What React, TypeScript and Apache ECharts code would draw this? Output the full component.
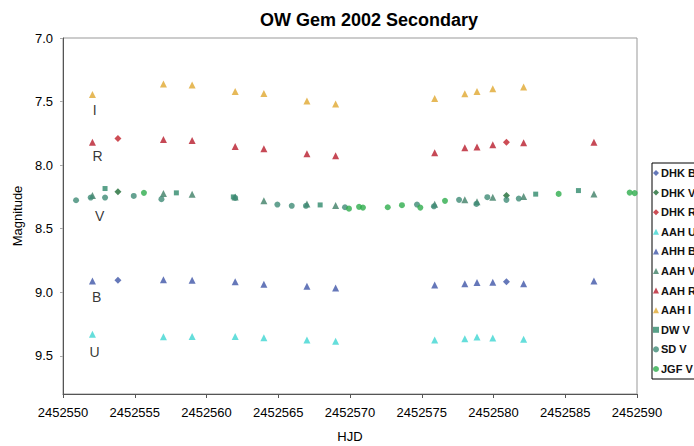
import React, { useEffect, useRef } from "react";
import * as echarts from "echarts";

// AAH nights (HJD)
const aahHjd = [2452552.05, 2452557.0, 2452559.0, 2452562.0, 2452564.0, 2452567.0, 2452569.0, 2452575.9, 2452578.0, 2452578.85, 2452579.95, 2452582.1, 2452587.0];
const aahU = [9.331, 9.35, 9.347, 9.347, 9.357, 9.376, 9.386, 9.376, 9.365, 9.352, 9.36, 9.37, null];
const ahhB = [8.911, 8.901, 8.906, 8.917, 8.937, 8.953, 8.967, 8.943, 8.932, 8.924, 8.921, 8.932, 8.911];
const aahV = [8.239, 8.224, 8.228, 8.25, 8.281, 8.305, 8.318, 8.307, 8.273, 8.287, 8.252, 8.247, 8.226];
const aahR = [7.819, 7.798, 7.806, 7.854, 7.872, 7.911, 7.927, 7.903, 7.864, 7.858, 7.84, 7.824, 7.819];
const aahI = [7.444, 7.362, 7.37, 7.42, 7.436, 7.496, 7.52, 7.476, 7.439, 7.42, 7.4, 7.386, null];

// DHK nights
const dhkHjd = [2452553.83, 2452580.9];
const dhkB = [8.906, 8.917];
const dhkV = [8.21, 8.239];
const dhkR = [7.79, 7.819];

// DW V
const dwHjd = [2452552.93, 2452557.9, 2452561.87, 2452567.92, 2452582.94, 2452585.92];
const dwV = [8.184, 8.218, 8.25, 8.313, 8.228, 8.2];

// SD V
const sdHjd = [2452550.91, 2452551.93, 2452552.93, 2452554.93, 2452556.86, 2452562.0, 2452564.94, 2452565.94, 2452566.93, 2452569.65, 2452574.67, 2452575.85, 2452577.6, 2452578.81, 2452579.57, 2452580.9, 2452581.76];
const sdV = [8.276, 8.255, 8.255, 8.242, 8.268, 8.258, 8.31, 8.32, 8.32, 8.331, 8.31, 8.324, 8.273, 8.305, 8.252, 8.273, 8.263];

// JGF V
const jgfHjd = [2452555.64, 2452569.93, 2452570.63, 2452570.9, 2452572.63, 2452573.62, 2452574.9, 2452576.62, 2452584.54, 2452589.49, 2452589.84];
const jgfV = [8.218, 8.342, 8.328, 8.334, 8.331, 8.315, 8.334, 8.281, 8.226, 8.216, 8.22];

// band labels
const bandLabels = ["I", "R", "V", "B", "U"];
const bandLabelHjd = [2452552.2, 2452552.4, 2452552.55, 2452552.35, 2452552.2];
const bandLabelMag = [7.565, 7.932, 8.397, 9.037, 9.47];

const FONT = "'Liberation Sans', Arial, sans-serif";

function pts(xs: number[], ys: (number | null)[]) {
  const out: number[][] = [];
  xs.forEach((x, i) => {
    const y = ys[i];
    if (y !== null && y !== undefined) out.push([x, y]);
  });
  return out;
}

function sc(name: string, xs: number[], ys: (number | null)[], symbol: string, size: number, color: string) {
  return {
    name,
    type: "scatter",
    symbol,
    symbolSize: size,
    itemStyle: { color },
    data: pts(xs, ys),
  };
}

export default function App() {
  const ref = useRef<HTMLDivElement>(null);
  useEffect(() => {
    if (!ref.current) return;
    const chart = echarts.init(ref.current, undefined, { renderer: "svg" });
    const series: any[] = [
      sc("DHK B", dhkHjd, dhkB, "diamond", 7, "#3F56A8"),
      sc("DHK V", dhkHjd, dhkV, "diamond", 7, "#1E6B35"),
      sc("DHK R", dhkHjd, dhkR, "diamond", 7, "#C0202A"),
      sc("AAH U", aahHjd, aahU, "triangle", 7, "#3FD6D2"),
      sc("AHH B", aahHjd, ahhB, "triangle", 7, "#3F55A8"),
      sc("AAH V", aahHjd, aahV, "triangle", 7, "#3E7F66"),
      sc("AAH R", aahHjd, aahR, "triangle", 7, "#B81C2C"),
      sc("AAH I", aahHjd, aahI, "triangle", 7, "#E0A830"),
      sc("DW V", dwHjd, dwV, "rect", 5, "#2F8A6C"),
      sc("SD V", sdHjd, sdV, "circle", 6, "#3F8B76"),
      sc("JGF V", jgfHjd, jgfV, "circle", 6, "#2EAD4C"),
      {
        name: "labels",
        type: "scatter",
        symbolSize: 0,
        silent: true,
        data: bandLabels.map((n, i) => ({ name: n, value: [bandLabelHjd[i], bandLabelMag[i]] })),
        label: {
          show: true,
          position: "inside",
          formatter: (p: any) => p.name,
          color: "#000",
          fontSize: 14,
          fontFamily: FONT,
          textBorderWidth: 0,
        },
      },
    ];
    chart.setOption({
      animation: false,
      backgroundColor: "#fff",
      title: {
        text: "OW Gem 2002 Secondary",
        left: 364,
        textAlign: "center",
        top: 6,
        textStyle: { fontSize: 18, fontWeight: "bold", color: "#000", fontFamily: FONT },
      },
      legend: {
        orient: "vertical",
        left: 652,
        top: 163,
        data: ["DHK B", "DHK V", "DHK R", "AAH U", "AHH B", "AAH V", "AAH R", "AAH I", "DW V", "SD V", "JGF V"],
        itemWidth: 6,
        itemHeight: 6,
        itemGap: 5.6,
        padding: [3, 6, 3, 1],
        borderColor: "#000",
        borderWidth: 1,
        textStyle: { fontSize: 11, fontWeight: "bold", color: "#111", fontFamily: FONT, lineHeight: 14, padding: [0, 0, 0, -3] },
      },
      grid: {
        left: 63,
        top: 38,
        width: 574,
        height: 356,
        show: true,
        borderColor: "#999",
        borderWidth: 1,
        outerBoundsMode: "none",
      },
      xAxis: {
        type: "value",
        min: 2452550,
        max: 2452590,
        interval: 5,
        name: "HJD",
        nameLocation: "middle",
        nameGap: 36,
        nameTextStyle: { fontSize: 13, color: "#000", fontFamily: FONT },
        axisLine: { show: true, lineStyle: { color: "#555" } },
        axisTick: { show: true, length: 4, lineStyle: { color: "#555" } },
        axisLabel: { fontSize: 13, color: "#000", fontFamily: FONT, margin: 12, formatter: (v: number) => String(v) },
        splitLine: { show: false },
      },
      yAxis: {
        type: "value",
        inverse: true,
        min: 7,
        max: 9.8,
        interval: 0.5,
        name: "Magnitude",
        nameLocation: "middle",
        nameGap: 37,
        nameRotate: 90,
        nameTextStyle: { fontSize: 13, color: "#000", fontFamily: FONT },
        axisLine: { show: true, lineStyle: { color: "#555" } },
        axisTick: { show: true, length: 3, lineStyle: { color: "#aaa" } },
        axisLabel: {
          fontSize: 13,
          color: "#000",
          fontFamily: FONT,
          margin: 10,
          showMaxLabel: false,
          formatter: (v: number) => v.toFixed(1),
        },
        splitLine: { show: false },
      },
      series,
    });
    return () => chart.dispose();
  }, []);
  return <div ref={ref} style={{ position: "fixed", left: 0, top: 0, width: 694, height: 446 }} />;
}
